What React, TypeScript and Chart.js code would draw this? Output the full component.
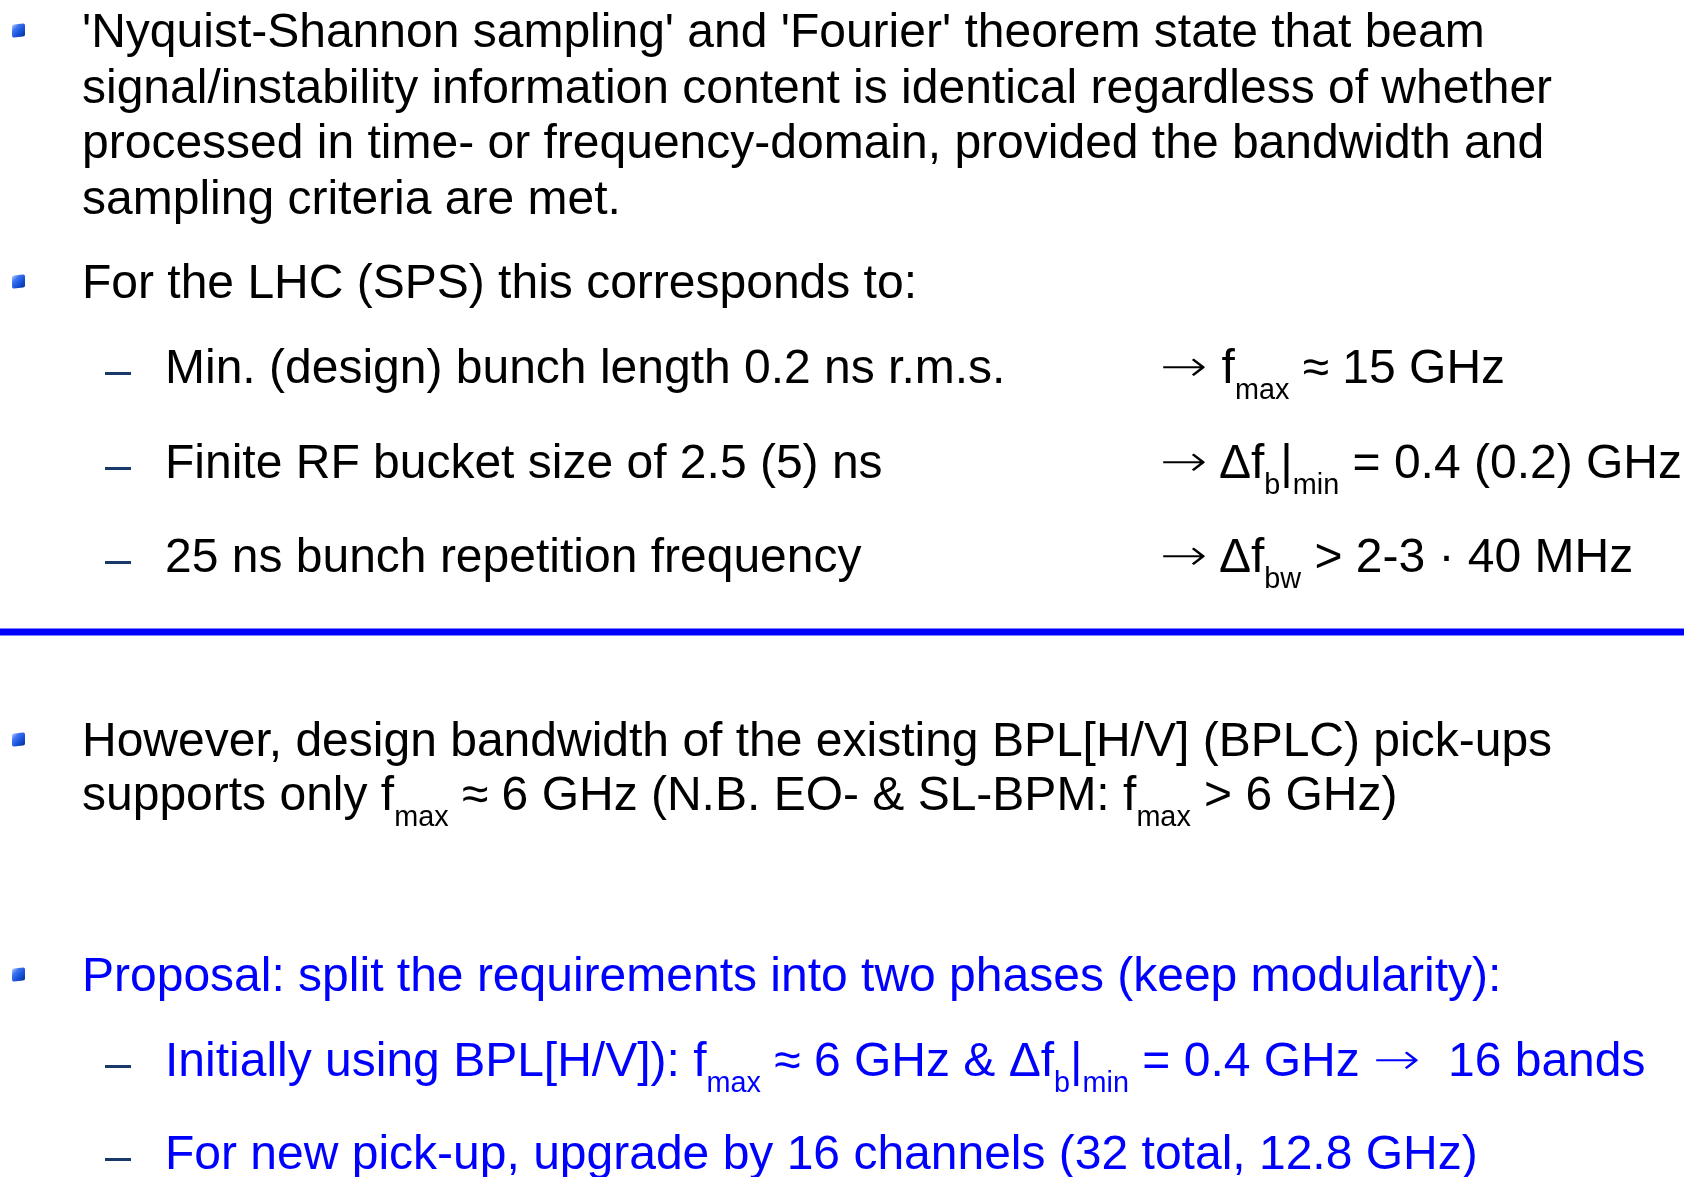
import React, { useEffect, useRef } from "react";
import { Chart, registerables } from "chart.js";

Chart.register(...registerables);

// ---- content (text lines, with _{...} marking subscripts) ----
const BLOCK1_LINES = [
  "'Nyquist-Shannon sampling' and 'Fourier' theorem state that beam",
  "signal/instability information content is identical regardless of whether",
  "processed in time- or frequency-domain, provided the bandwidth and",
  "sampling criteria are met.",
];
const BLOCK2_HEAD = ["For the LHC (SPS) this corresponds to:"];
const BLOCK2_ITEMS = [
  "Min. (design) bunch length 0.2 ns r.m.s.",
  "Finite RF bucket size of 2.5 (5) ns",
  "25 ns bunch repetition frequency",
];
const BLOCK2_RESULTS = [
  "→ f_{max} ≈ 15 GHz",
  "→ Δf_{b}|_{min} = 0.4 (0.2) GHz",
  "→ Δf_{bw} > 2-3 · 40 MHz",
];
const BLOCK3_LINES = [
  "However, design bandwidth of the existing BPL[H/V] (BPLC) pick-ups",
  "supports only f_{max} ≈ 6 GHz (N.B. EO- & SL-BPM: f_{max} > 6 GHz)",
];
const BLOCK4_HEAD = ["Proposal: split the requirements into two phases (keep modularity):"];
const BLOCK4_ITEMS = [
  "Initially using BPL[H/V]): f_{max} ≈ 6 GHz & Δf_{b}|_{min} = 0.4 GHz →  16 bands",
  "For new pick-up, upgrade by 16 channels (32 total, 12.8 GHz)",
];

// separator rule (drawn by Chart.js)
const RULE_X = [0, 1684];
const RULE_Y = [632, 632];

// ---- layout ----
const W = 1684;
const H = 1177;
const FONT = '"Liberation Sans", Arial, Helvetica, sans-serif';
const ARROW_FONT = '"DejaVu Sans ExtraLight", "DejaVu Sans", "Liberation Sans", sans-serif';
const FS = 48;
const LH = 55;
const TEXT_X = 82;
const BULLET_X = 12;
const DASH_X = 105;
const SUB_X = 165;
const RIGHT_X = 1160;
const BLACK = "#000000";
const BLUE = "#0000ff";

function renderPlain(s: string, keyBase: string) {
  // render arrows in a font with a long arrow glyph
  const out: React.ReactNode[] = [];
  const pieces = s.split("→");
  pieces.forEach((p, i) => {
    if (i > 0)
      out.push(
        <span
          key={keyBase + "a" + i}
          style={{
            fontFamily: ARROW_FONT,
            fontWeight: 200,
            display: "inline-block",
            transform: "scale(1.18, 0.9)",
            transformOrigin: "left center",
            marginRight: 8,
          }}
        >
          →
        </span>
      );
    if (p) out.push(<span key={keyBase + "t" + i}>{p}</span>);
  });
  return out;
}

function renderRich(s: string) {
  const parts: React.ReactNode[] = [];
  const re = /_\{([^}]*)\}/g;
  let last = 0;
  let m: RegExpExecArray | null;
  let k = 0;
  while ((m = re.exec(s))) {
    if (m.index > last) parts.push(...renderPlain(s.slice(last, m.index), "p" + k++));
    parts.push(
      <span key={"s" + k++} style={{ fontSize: "0.6em", verticalAlign: "-16px" }}>
        {m[1]}
      </span>
    );
    last = m.index + m[0].length;
  }
  if (last < s.length) parts.push(...renderPlain(s.slice(last), "p" + k++));
  return parts;
}

function Line({ x, cy, text, color }: { x: number; cy: number; text: string; color: string }) {
  return (
    <div
      style={{
        position: "absolute",
        left: x,
        top: cy - 27,
        fontFamily: FONT,
        fontSize: FS,
        lineHeight: LH + "px",
        whiteSpace: "pre",
        color,
      }}
    >
      {renderRich(text)}
    </div>
  );
}

function Bullet({ cy }: { cy: number }) {
  return (
    <div
      style={{
        position: "absolute",
        left: BULLET_X,
        top: cy - 6,
        width: 13,
        height: 13,
        borderRadius: 2,
        transform: "skewY(-5deg)",
        background: "linear-gradient(135deg, #b4d0ff 0%, #3d74f0 30%, #1450d8 65%, #0a2f8a 100%)",
      }}
    />
  );
}

function Dash({ cy }: { cy: number }) {
  return (
    <div
      style={{
        position: "absolute",
        left: DASH_X,
        top: cy + 6,
        width: 26,
        height: 3,
        background: "#173a6b",
      }}
    />
  );
}

const B1_Y = [30, 86, 141, 197];
const B2_Y = [281];
const B2_ITEM_Y = [366, 461, 555];
const B3_Y = [739, 793];
const B4_Y = [974];
const B4_ITEM_Y = [1059, 1152];

export default function App() {
  const canvasRef = useRef<HTMLCanvasElement | null>(null);

  useEffect(() => {
    const prevMargin = document.body.style.margin;
    document.body.style.margin = "0";
    const canvas = canvasRef.current;
    if (!canvas) return;
    const chart = new Chart(canvas, {
      type: "line",
      data: {
        datasets: [
          {
            data: RULE_X.map((x, i) => ({ x, y: RULE_Y[i] })),
            borderColor: BLUE,
            borderWidth: 7,
            pointRadius: 0,
            fill: false,
          },
        ],
      },
      options: {
        animation: false,
        responsive: false,
        maintainAspectRatio: false,
        layout: { padding: 0 },
        plugins: { legend: { display: false }, tooltip: { enabled: false } },
        scales: {
          x: { type: "linear", min: 0, max: W, display: false },
          y: { type: "linear", min: 0, max: H, reverse: true, display: false },
        },
      },
    });
    return () => {
      chart.destroy();
      document.body.style.margin = prevMargin;
    };
  }, []);

  return (
    <div
      style={{
        position: "fixed",
        left: 0,
        top: 0,
        width: W,
        height: H,
        overflow: "hidden",
        background: "#ffffff",
      }}
    >
      <canvas
        ref={canvasRef}
        width={W}
        height={H}
        style={{ position: "absolute", left: 0, top: 0, width: W, height: H }}
      />
      <Bullet cy={B1_Y[0]} />
      {BLOCK1_LINES.map((t, i) => (
        <Line key={"b1" + i} x={TEXT_X} cy={B1_Y[i]} text={t} color={BLACK} />
      ))}
      <Bullet cy={B2_Y[0]} />
      <Line x={TEXT_X} cy={B2_Y[0]} text={BLOCK2_HEAD[0]} color={BLACK} />
      {BLOCK2_ITEMS.map((t, i) => (
        <React.Fragment key={"b2" + i}>
          <Dash cy={B2_ITEM_Y[i]} />
          <Line x={SUB_X} cy={B2_ITEM_Y[i]} text={t} color={BLACK} />
          <Line x={RIGHT_X} cy={B2_ITEM_Y[i]} text={BLOCK2_RESULTS[i]} color={BLACK} />
        </React.Fragment>
      ))}
      <Bullet cy={B3_Y[0]} />
      {BLOCK3_LINES.map((t, i) => (
        <Line key={"b3" + i} x={TEXT_X} cy={B3_Y[i]} text={t} color={BLACK} />
      ))}
      <Bullet cy={B4_Y[0]} />
      <Line x={TEXT_X} cy={B4_Y[0]} text={BLOCK4_HEAD[0]} color={BLUE} />
      {BLOCK4_ITEMS.map((t, i) => (
        <React.Fragment key={"b4" + i}>
          <Dash cy={B4_ITEM_Y[i]} />
          <Line x={SUB_X} cy={B4_ITEM_Y[i]} text={t} color={BLUE} />
        </React.Fragment>
      ))}
    </div>
  );
}
